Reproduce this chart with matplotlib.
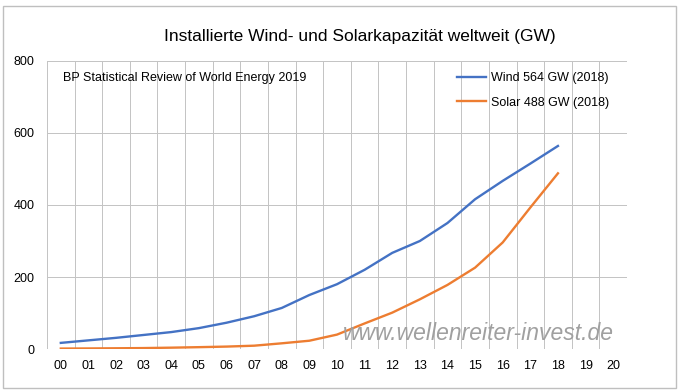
import matplotlib.pyplot as plt
from matplotlib.patches import Rectangle

plt.rcParams['font.family'] = ['Liberation Sans', 'DejaVu Sans']

# Daten (BP Statistical Review of World Energy 2019), GW
jahre = ['00', '01', '02', '03', '04', '05', '06', '07', '08', '09', '10',
         '11', '12', '13', '14', '15', '16', '17', '18', '19', '20']
wind = [17, 24, 31, 39, 47, 58, 73, 91, 114, 150, 180,
        220, 267, 300, 350, 416, 467, 515, 564]
solar = [1.2, 1.5, 2.0, 2.6, 3.7, 5.1, 6.7, 9.2, 15.8, 23, 40,
         71, 101, 138, 178, 226, 296, 393, 488]
y_ticks = [0, 200, 400, 600, 800]

blau = '#4472C4'
orange = '#ED7D31'
grid = '#C4C4C4'

fig = plt.figure(figsize=(6.8, 3.92), dpi=100)
fig.patches.append(Rectangle((3 / 680, 4 / 392), 673 / 680, 382 / 392,
                             transform=fig.transFigure, fill=False,
                             edgecolor='#BFBFBF', linewidth=1))

ax = fig.add_axes([47 / 680, 43 / 392, 580 / 680, 288 / 392])

# Gitter: vertikale Linien zwischen den Kategorien
for i in range(len(jahre) + 1):
    ax.axvline(i - 0.5, color=grid, linewidth=0.55, zorder=1, antialiased=False)
for y in y_ticks:
    ax.axhline(y, color=grid, linewidth=0.55, zorder=1, antialiased=False)

x = list(range(len(wind)))
ax.plot(x, wind, color=blau, linewidth=1.7, label='Wind 564 GW (2018)', zorder=3)
ax.plot(x, solar, color=orange, linewidth=1.7, label='Solar 488 GW (2018)', zorder=3)

ax.set_xlim(-0.5, len(jahre) - 0.5)
ax.set_ylim(0, 800)
ax.set_xticks(range(len(jahre)))
ax.set_xticklabels(jahre)
ax.set_yticks(y_ticks)
ax.tick_params(axis='both', length=0, labelsize=9, colors='#000000')
ax.tick_params(axis='x', pad=8)
ax.tick_params(axis='y', pad=9)
for s in ax.spines.values():
    s.set_visible(False)

fig.text(360 / 680, 1 - 36 / 392, 'Installierte Wind- und Solarkapazität weltweit (GW)',
         ha='center', va='center', fontsize=12.5)
fig.text(63 / 680, 1 - 78 / 392, 'BP Statistical Review of World Energy 2019',
         ha='left', va='center', fontsize=9)
fig.text(478 / 680, 1 - 333 / 392, 'www.wellenreiter-invest.de', ha='center', va='center',
         fontsize=16.5, style='italic', color='#A0A0A0')

ax.legend(loc='upper left', bbox_to_anchor=(451 / 680, 1 - 66 / 392),
          bbox_transform=fig.transFigure, frameon=False, fontsize=9,
          handlelength=2.3, handletextpad=0.4, labelspacing=1.0, borderpad=0)

fig.savefig('out.png', dpi=100)
